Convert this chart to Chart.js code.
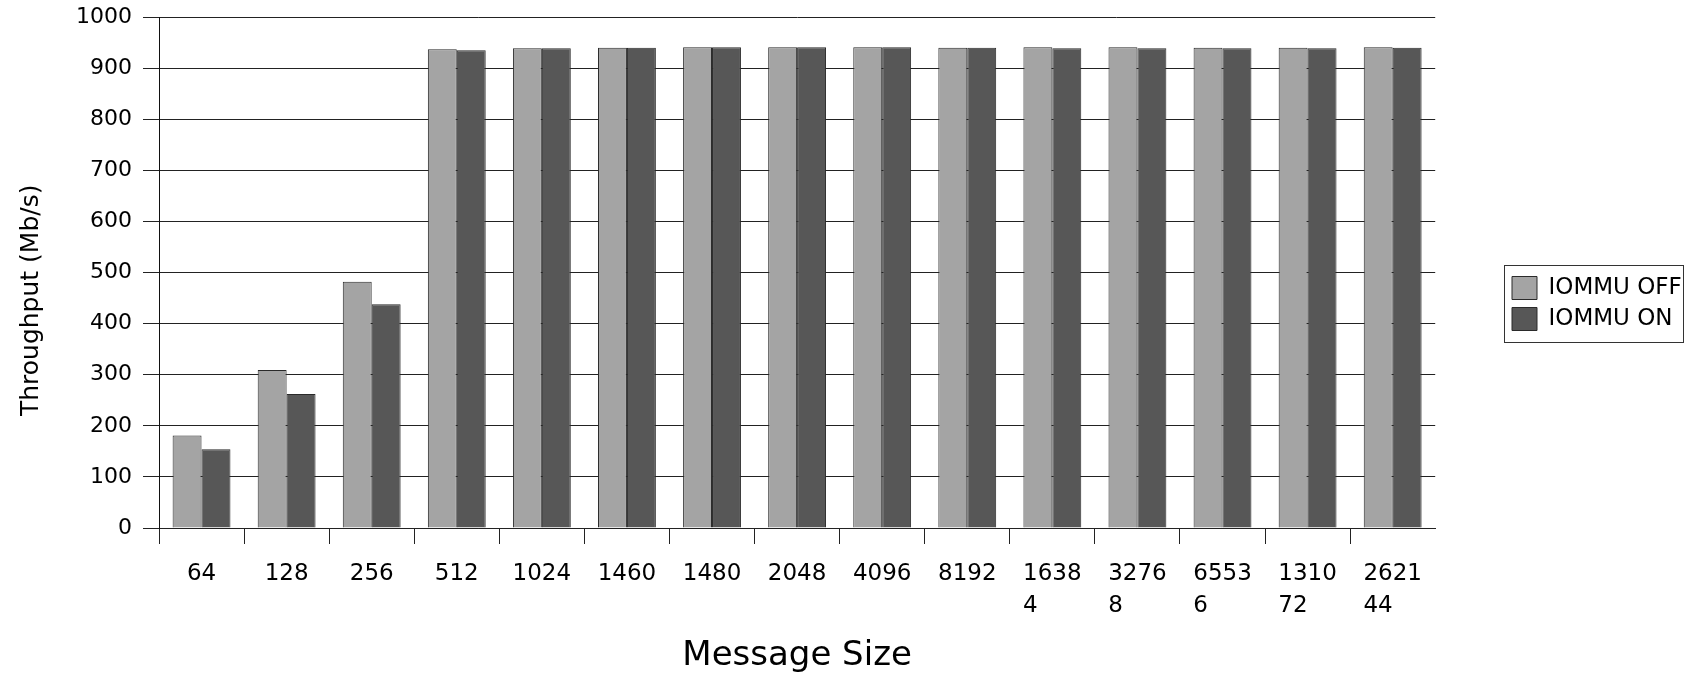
<!DOCTYPE html>
<html>
<head>
<meta charset="utf-8">
<script src="https://cdn.jsdelivr.net/npm/chart.js@4"></script>
<style>
	body { margin: 0; background: #fff; }
</style>
</head>
<body>
<canvas id="throughputChart" width="1685" height="675"></canvas>
<script>
const messageSizes = ['64', '128', '256', '512', '1024', '1460', '1480', '2048', '4096', '8192', '16384', '32768', '65536', '131072', '262144']
const iommuOff = [181, 309, 482, 937, 939, 940, 941, 941, 941, 940, 941, 941, 940, 940, 941]
const iommuOn = [154, 262, 438, 935, 939, 940, 941, 941, 941, 940, 939, 939, 939, 939, 940]
const yTicks = [0, 100, 200, 300, 400, 500, 600, 700, 800, 900, 1000]

// etykiety dluzsze niz 4 znaki zawijane jak w oryginale (druga linia wyrownana do lewej)
const wrapLabel = label => {
	if (label.length <= 4) return label
	const first = label.slice(0, 4)
	const rest = label.slice(4)
	return [first, rest + ' '.repeat((4 - rest.length) * 2)]
}

const legendBox = { left: 1504, top: 265, width: 179, height: 77 }

const legendFrame = {
	id: 'legendFrame',
	afterLayout(chart) {
		const lg = chart.legend
		lg.left = legendBox.left
		lg.right = legendBox.left + legendBox.width
		lg.top = legendBox.top
		lg.bottom = legendBox.top + legendBox.height
	},
	afterDraw(chart) {
		const lg = chart.legend
		const ctx = chart.ctx
		ctx.save()
		ctx.strokeStyle = '#333'
		ctx.lineWidth = 1
		ctx.strokeRect(lg.left + 0.5, lg.top + 0.5, lg.right - lg.left, lg.bottom - lg.top)
		ctx.restore()
	},
}

const ctx = document.getElementById('throughputChart').getContext('2d')
new Chart(ctx, {
	type: 'bar',
	data: {
		labels: messageSizes,
		datasets: [
			{
				label: 'IOMMU OFF',
				data: iommuOff,
				backgroundColor: '#a4a4a4',
				borderColor: '#2a2a2a',
				borderWidth: 1,
				categoryPercentage: 0.68,
				barPercentage: 1,
			},
			{
				label: 'IOMMU ON',
				data: iommuOn,
				backgroundColor: '#575757',
				borderColor: '#2a2a2a',
				borderWidth: 1,
				categoryPercentage: 0.68,
				barPercentage: 1,
			},
		],
	},
	options: {
		responsive: false,
		animation: false,
		layout: {
			padding: { left: 0, right: 62, top: 17, bottom: 0 },
		},
		plugins: {
			tooltip: { enabled: false },
			legend: {
				position: 'right',
				labels: {
					boxWidth: 25,
					boxHeight: 23,
					padding: 8,
					color: '#000',
					font: { family: '"DejaVu Sans", sans-serif', size: 23, lineHeight: 1.15 },
				},
			},
		},
		scales: {
			x: {
				offset: true,
				grid: {
					display: true,
					drawOnChartArea: false,
					drawTicks: true,
					tickLength: 16,
					offset: true,
					// ostatnia kreska (za ostatnia kategoria) niewidoczna
					color: c => (c.tick ? '#222' : 'rgba(0,0,0,0)'),
				},
				border: { display: true, color: '#222' },
				ticks: {
					color: '#000',
					padding: 14,
					maxRotation: 0,
					autoSkip: false,
					font: { family: '"DejaVu Sans", sans-serif', size: 23, lineHeight: 1.4 },
					callback: function (value, index) {
						return wrapLabel(messageSizes[index])
					},
				},
				title: {
					display: true,
					text: 'Message Size',
					color: '#000',
					padding: { top: 0, bottom: 2 },
					font: { family: '"DejaVu Sans", sans-serif', size: 34, lineHeight: 1.0 },
				},
				afterFit: scale => {
					scale.height = 147
					scale.paddingLeft = 0
					scale.paddingRight = 0
				},
			},
			y: {
				min: 0,
				max: 1000,
				afterBuildTicks: scale => {
					scale.ticks = yTicks.map(v => ({ value: v }))
				},
				grid: {
					color: '#222',
					lineWidth: 1,
					drawTicks: true,
					tickLength: 16,
				},
				border: { display: true, color: '#111' },
				ticks: {
					color: '#000',
					padding: 11,
					font: { family: '"DejaVu Sans", sans-serif', size: 22 },
					callback: v => String(v),
				},
				title: {
					display: true,
					text: 'Throughput (Mb/s)       ',
					color: '#000',
					padding: { top: 16, bottom: 0 },
					font: { family: '"DejaVu Sans", sans-serif', size: 25, lineHeight: 1.2 },
				},
				afterFit: scale => {
					scale.width = 159
					scale.paddingTop = 0
					scale.paddingBottom = 0
				},
			},
		},
	},
	plugins: [legendFrame],
})
</script>
</body>
</html>
